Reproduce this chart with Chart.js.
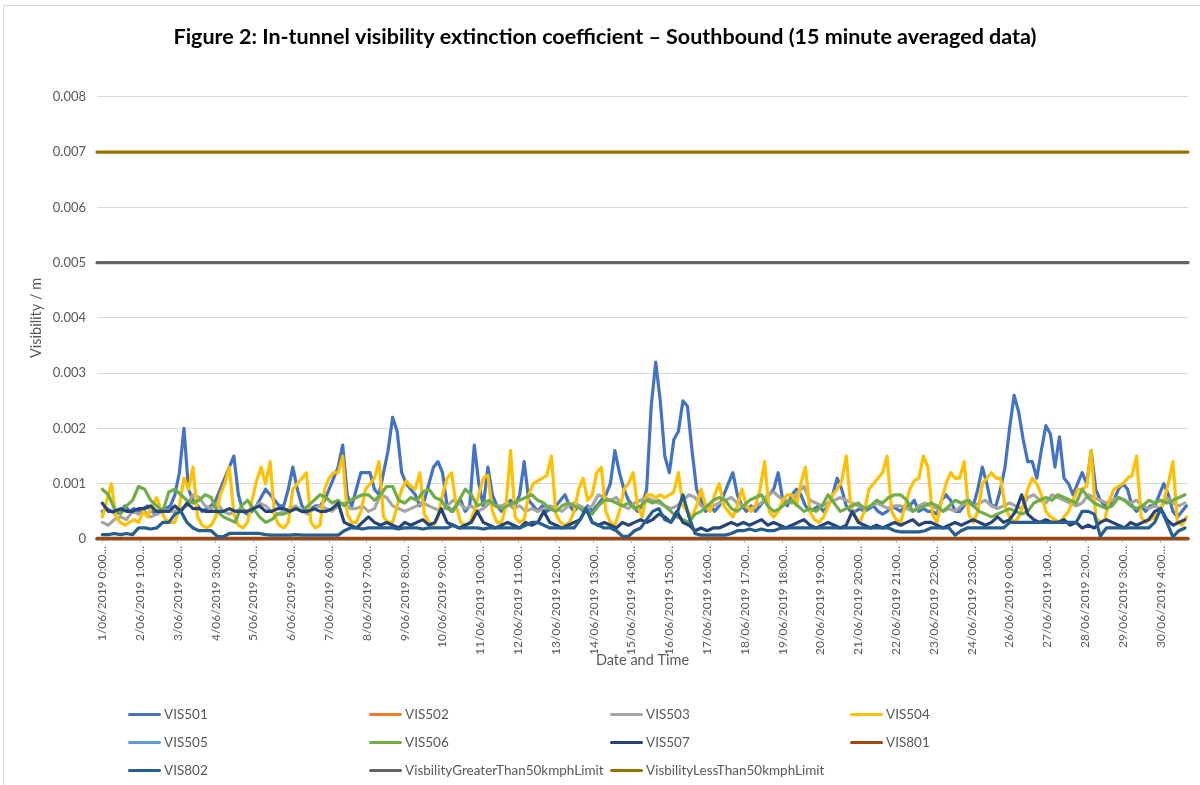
<!DOCTYPE html>
<html>
<head>
<meta charset="utf-8">
<title>In-tunnel visibility extinction coefficient - Southbound</title>
<script src="https://cdn.jsdelivr.net/npm/chart.js@4.4.0/dist/chart.umd.min.js"></script>
<style>
    html, body { margin: 0; padding: 0; background: #fff; }
    #wrap { position: relative; width: 1200px; height: 785px; overflow: hidden; font-family: Lato, sans-serif; }
    #frame { position: absolute; left: 3px; top: 5px; width: 1220px; height: 800px; border: 1px solid #d9d9d9; box-sizing: border-box; }
    #myChart { position: absolute; left: 0; top: 0; }
    .legend-item { position: absolute; height: 18px; display: flex; align-items: center; font-size: 13.5px; color: #595959; white-space: nowrap; }
    .legend-line { width: 33px; height: 3px; border-radius: 2px; margin-right: 3px; }
</style>
</head>
<body>
<div id="wrap">
    <div id="frame"></div>
    <canvas id="myChart" width="1200" height="785"></canvas>
    <div id="legend"></div>
</div>
<script>
// x tick labels, one every 25 hours (100 samples of 15 minutes)
const tickLabels = [
    '1/06/2019 0:00...', '2/06/2019 1:00...', '3/06/2019 2:00...', '4/06/2019 3:00...',
    '5/06/2019 4:00...', '6/06/2019 5:00...', '7/06/2019 6:00...', '8/06/2019 7:00...',
    '9/06/2019 8:00...', '10/06/2019 9:00...', '11/06/2019 10:00...', '12/06/2019 11:00...',
    '13/06/2019 12:00...', '14/06/2019 13:00...', '15/06/2019 14:00...', '16/06/2019 15:00...',
    '17/06/2019 16:00...', '18/06/2019 17:00...', '19/06/2019 18:00...', '20/06/2019 19:00...',
    '21/06/2019 20:00...', '22/06/2019 21:00...', '23/06/2019 22:00...', '24/06/2019 23:00...',
    '26/06/2019 0:00...', '27/06/2019 1:00...', '28/06/2019 2:00...', '29/06/2019 3:00...',
    '30/06/2019 4:00...'
];
const tickStepHours = 25;

const seriesNames = [
    'VIS501', 'VIS502', 'VIS503', 'VIS504', 'VIS505', 'VIS506', 'VIS507', 'VIS801', 'VIS802',
    'VisbilityGreaterThan50kmphLimit', 'VisbilityLessThan50kmphLimit'
];

// sample spacing (hours) of the value lists below
const fineStep = 3;
const coarseStep = 4;
// first and last hour of the flat series
const flatHours = [-3.5, 718];

// VIS501, every 3 hours, one row per day
const vis501 = [
    0.0005, 0.00055, 0.0005, 0.00045, 0.0005, 0.0006, 0.0005, 0.00055,
    0.0005, 0.00055, 0.0006, 0.0005, 0.00045, 0.0005, 0.00055, 0.0006,
    0.0008, 0.0012, 0.002, 0.0009, 0.0007, 0.0006, 0.0005, 0.00055,
    0.0006, 0.0007, 0.0009, 0.0011, 0.0013, 0.0015, 0.0008, 0.0005,
    0.00045, 0.0005, 0.0006, 0.00075, 0.0009, 0.0008, 0.0007, 0.0006,
    0.0006, 0.0009, 0.0013, 0.0009, 0.0006, 0.0005, 0.00055, 0.0006,
    0.0006, 0.0007, 0.0009, 0.0011, 0.0013, 0.0017, 0.0008, 0.0006,
    0.0009, 0.0012, 0.0012, 0.0012, 0.0009, 0.0008, 0.0012, 0.0016,
    0.0022, 0.00195, 0.0012, 0.001, 0.0009, 0.0008, 0.0006, 0.0007,
    0.001, 0.0013, 0.0014, 0.0012, 0.0006, 0.0005, 0.0006, 0.0007,
    0.0005, 0.0006, 0.0017, 0.001, 0.0006, 0.0013, 0.0008, 0.0006,
    0.0005, 0.0006, 0.0007, 0.0006, 0.0008, 0.0014, 0.0007, 0.0006,
    0.0005, 0.0006, 0.0005, 0.00055, 0.0006, 0.0007, 0.0008, 0.0006,
    0.0005, 0.0006, 0.0005, 0.0006, 0.0005, 0.0006, 0.0007, 0.0008,
    0.001, 0.0016, 0.0012, 0.0009, 0.0007, 0.0006, 0.0005, 0.0006,
    0.0009, 0.0024, 0.0032, 0.0025, 0.0015, 0.0012, 0.0018, 0.00195,
    0.0025, 0.0024, 0.0016, 0.0009, 0.0007, 0.0005, 0.0006, 0.0005,
    0.0006, 0.0008, 0.001, 0.0012, 0.0008, 0.0006, 0.0005, 0.0006,
    0.0005, 0.0006, 0.0007, 0.0008, 0.0009, 0.0012, 0.0007, 0.0006,
    0.0008, 0.0009, 0.0008, 0.0006, 0.0005, 0.00055, 0.0006, 0.0005,
    0.0006, 0.0008, 0.0011, 0.0009, 0.0006, 0.0005, 0.0005, 0.00055,
    0.0005, 0.00055, 0.0006, 0.0005, 0.00045, 0.0005, 0.0006, 0.00055,
    0.0005, 0.0006, 0.0006, 0.0007, 0.0005, 0.00055, 0.0005, 0.0005,
    0.00045, 0.0007, 0.0008, 0.0007, 0.0005, 0.0005, 0.0006, 0.0007,
    0.0006, 0.0009, 0.0013, 0.001, 0.0006, 0.0006, 0.0009, 0.0013,
    0.002, 0.0026, 0.0023, 0.0018, 0.0014, 0.0014, 0.0011, 0.0016,
    0.00205, 0.0019, 0.0013, 0.00185, 0.0011, 0.001, 0.0008, 0.001,
    0.0012, 0.001, 0.0016, 0.0009, 0.0007, 0.0006, 0.0006, 0.0007,
    0.0009, 0.001, 0.0009, 0.0006, 0.0005, 0.0006, 0.0005, 0.0006,
    0.0006, 0.0008, 0.001, 0.0008, 0.0005, 0.0004, 0.0005, 0.0006
];

// VIS504, every 3 hours
const vis504 = [
    0.0004, 0.0007, 0.001, 0.0004, 0.0003, 0.00025, 0.0003, 0.00035,
    0.0003, 0.0005, 0.0004, 0.0006, 0.00075, 0.0005, 0.00035, 0.0003,
    0.0003, 0.0006, 0.0011, 0.0009, 0.0013, 0.0004, 0.00025, 0.0002,
    0.00025, 0.0004, 0.0008, 0.001, 0.0013, 0.00045, 0.00025, 0.0002,
    0.0003, 0.0007, 0.00105, 0.0013, 0.001, 0.0014, 0.0004, 0.00025,
    0.0002, 0.0003, 0.0009, 0.001, 0.0011, 0.0012, 0.0003, 0.0002,
    0.00025, 0.0009, 0.0011, 0.0012, 0.0012, 0.0015, 0.00045, 0.0003,
    0.0003, 0.0005, 0.0009, 0.001, 0.0011, 0.0014, 0.0004, 0.0003,
    0.0003, 0.0006, 0.0009, 0.00105, 0.00095, 0.0009, 0.0012, 0.00045,
    0.0003, 0.00025, 0.0004, 0.0008, 0.0011, 0.0012, 0.0006, 0.0003,
    0.00025, 0.0003, 0.0005, 0.0008, 0.0011, 0.00115, 0.0005, 0.0003,
    0.0003, 0.0006, 0.0016, 0.0004, 0.0003, 0.00035, 0.0008, 0.001,
    0.00105, 0.0011, 0.00115, 0.0015, 0.00045, 0.0003, 0.00025, 0.0003,
    0.0005, 0.0009, 0.0011, 0.0007, 0.0008, 0.0012, 0.0013, 0.0005,
    0.0003, 0.00025, 0.0005, 0.0009, 0.001, 0.0012, 0.0006, 0.0004,
    0.0008, 0.0008, 0.00075, 0.0008, 0.00075, 0.0008, 0.00085, 0.0012,
    0.0006, 0.0005, 0.0004, 0.0006, 0.0009, 0.0006, 0.0005, 0.0008,
    0.001, 0.0006, 0.0005, 0.0004, 0.0006, 0.0009, 0.0006, 0.0005,
    0.0006, 0.0009, 0.0014, 0.0005, 0.0004, 0.0005, 0.0007, 0.0008,
    0.0008, 0.0006, 0.001, 0.0013, 0.0005, 0.00035, 0.0003, 0.0004,
    0.0006, 0.0008, 0.0009, 0.00105, 0.0015, 0.0006, 0.0004, 0.0003,
    0.0005, 0.0009, 0.001, 0.0011, 0.0012, 0.0015, 0.0005, 0.00035,
    0.0003, 0.0006, 0.0009, 0.00105, 0.0011, 0.0015, 0.0013, 0.00045,
    0.0003, 0.0007, 0.001, 0.0012, 0.0011, 0.0011, 0.0014, 0.00045,
    0.0003, 0.0005, 0.001, 0.0011, 0.0012, 0.0011, 0.0011, 0.0006,
    0.0004, 0.0003, 0.0004, 0.0006, 0.0009, 0.0011, 0.001, 0.0008,
    0.0005, 0.0004, 0.00035, 0.0003, 0.0004, 0.0005, 0.0007, 0.0009,
    0.0009, 0.00095, 0.0016, 0.0004, 0.0003, 0.00035, 0.0007, 0.0009,
    0.00095, 0.001, 0.0011, 0.00115, 0.0015, 0.0004, 0.0003, 0.00035,
    0.0004, 0.0005, 0.0007, 0.001, 0.0014, 0.0003, 0.00025, 0.0004
];

// VIS503, every 4 hours
const vis503 = [
    0.0003, 0.00025, 0.00035, 0.0004, 0.00035, 0.0005,
    0.00045, 0.0005, 0.0004, 0.00045, 0.00055, 0.0005,
    0.0005, 0.00055, 0.0006, 0.0008, 0.00075, 0.0006,
    0.00055, 0.00065, 0.0005, 0.00045, 0.0005, 0.00055,
    0.0005, 0.00055, 0.00065, 0.0006, 0.0005, 0.00045,
    0.0005, 0.00055, 0.0006, 0.0005, 0.00045, 0.00055,
    0.0006, 0.00055, 0.0005, 0.0006, 0.00065, 0.00055,
    0.00055, 0.0006, 0.0005, 0.00055, 0.0008, 0.00075,
    0.0006, 0.00055, 0.0005, 0.00055, 0.0006, 0.00065,
    0.0006, 0.00055, 0.0005, 0.0006, 0.0007, 0.00065,
    0.00055, 0.0006, 0.0005, 0.00055, 0.00065, 0.0006,
    0.0006, 0.00065, 0.00055, 0.0006, 0.0005, 0.00055,
    0.0005, 0.00055, 0.0006, 0.00055, 0.0005, 0.0006,
    0.00065, 0.0006, 0.00055, 0.0006, 0.0008, 0.00075,
    0.0007, 0.00075, 0.0006, 0.00055, 0.00065, 0.0007,
    0.00075, 0.0007, 0.00065, 0.0006, 0.00055, 0.0006,
    0.0007, 0.0008, 0.00075, 0.0006, 0.00055, 0.0006,
    0.00065, 0.0007, 0.00075, 0.00065, 0.0006, 0.00055,
    0.0006, 0.00065, 0.0008, 0.00085, 0.00075, 0.0007,
    0.00065, 0.00085, 0.00095, 0.0007, 0.00065, 0.0006,
    0.00065, 0.0007, 0.00075, 0.0007, 0.00065, 0.0006,
    0.00055, 0.0006, 0.00065, 0.0006, 0.00055, 0.0006,
    0.0006, 0.00055, 0.0005, 0.0006, 0.00065, 0.0006,
    0.00055, 0.0005, 0.00055, 0.0005, 0.0006, 0.00065,
    0.0006, 0.00065, 0.0007, 0.0006, 0.00055, 0.0006,
    0.00065, 0.0006, 0.00055, 0.00075, 0.0008, 0.0007,
    0.00065, 0.0008, 0.00075, 0.0007, 0.00065, 0.0006,
    0.00065, 0.0008, 0.00075, 0.0007, 0.00065, 0.0007,
    0.00075, 0.0007, 0.00065, 0.0007, 0.0006, 0.00055,
    0.0006, 0.00055, 0.00075, 0.00065, 0.0006, 0.00065
];

// VIS506, every 4 hours
const vis506 = [
    0.0009, 0.0008, 0.00055, 0.00045, 0.0006, 0.0007,
    0.00095, 0.0009, 0.0007, 0.0006, 0.0005, 0.00085,
    0.0009, 0.0008, 0.0007, 0.00065, 0.0007, 0.0008,
    0.00075, 0.0005, 0.0004, 0.00035, 0.0003, 0.0006,
    0.0007, 0.00055, 0.0004, 0.0003, 0.00035, 0.00045,
    0.00045, 0.0005, 0.00055, 0.0005, 0.0006, 0.0007,
    0.0008, 0.00075, 0.00065, 0.0007, 0.0006, 0.0007,
    0.00075, 0.0008, 0.0008, 0.0007, 0.0008, 0.00095,
    0.00095, 0.0007, 0.00065, 0.00075, 0.0007, 0.00085,
    0.0009, 0.00075, 0.0007, 0.00055, 0.0005, 0.0007,
    0.0009, 0.0008, 0.0006, 0.00065, 0.0007, 0.0006,
    0.00055, 0.0006, 0.00065, 0.0007, 0.00075, 0.0008,
    0.0007, 0.00065, 0.00055, 0.0005, 0.0006, 0.00065,
    0.0006, 0.00055, 0.0005, 0.00045, 0.0006, 0.0007,
    0.0007, 0.00065, 0.0006, 0.00065, 0.00055, 0.0006,
    0.0007, 0.00065, 0.0007, 0.0006, 0.0005, 0.0004,
    0.00035, 0.0003, 0.00045, 0.0005, 0.0006, 0.0007,
    0.00075, 0.0007, 0.00055, 0.0005, 0.0006, 0.0007,
    0.00075, 0.0008, 0.0006, 0.0005, 0.00055, 0.00065,
    0.0007, 0.0006, 0.0005, 0.00055, 0.0005, 0.0006,
    0.0008, 0.00065, 0.0005, 0.00055, 0.0006, 0.00065,
    0.00055, 0.0006, 0.0007, 0.00065, 0.00075, 0.0008,
    0.0008, 0.0007, 0.0005, 0.00055, 0.0006, 0.00065,
    0.0006, 0.0005, 0.0006, 0.0007, 0.00065, 0.0007,
    0.0006, 0.0005, 0.00045, 0.0004, 0.00045, 0.0005,
    0.00055, 0.0005, 0.00045, 0.0005, 0.00065, 0.0007,
    0.00075, 0.0007, 0.0008, 0.00075, 0.0007, 0.00065,
    0.0009, 0.00075, 0.00065, 0.0006, 0.00055, 0.0006,
    0.00075, 0.0007, 0.0006, 0.00055, 0.0006, 0.0007,
    0.00065, 0.0007, 0.00065, 0.0007, 0.00075, 0.0008
];

// VIS507, every 4 hours
const vis507 = [
    0.00065, 0.0005, 0.0005, 0.00055, 0.0005, 0.0005,
    0.00055, 0.00055, 0.0006, 0.0005, 0.0005, 0.0005,
    0.0006, 0.0005, 0.00065, 0.00055, 0.00055, 0.0005,
    0.0005, 0.0005, 0.0005, 0.00055, 0.0005, 0.0005,
    0.0005, 0.00055, 0.0006, 0.0005, 0.0005, 0.00055,
    0.00055, 0.0005, 0.00055, 0.0005, 0.0005, 0.00055,
    0.0005, 0.0005, 0.00055, 0.00065, 0.0003, 0.00025,
    0.0002, 0.0003, 0.0004, 0.0003, 0.00025, 0.0003,
    0.00025, 0.0002, 0.0003, 0.00025, 0.0003, 0.00035,
    0.00025, 0.0003, 0.00055, 0.0003, 0.00025, 0.0002,
    0.00025, 0.0003, 0.0005, 0.0003, 0.00025, 0.0002,
    0.00025, 0.0003, 0.00025, 0.0002, 0.0003, 0.00025,
    0.0003, 0.0005, 0.0003, 0.00025, 0.0002, 0.00025,
    0.0003, 0.00035, 0.00055, 0.0003, 0.00025, 0.0003,
    0.00025, 0.0002, 0.0003, 0.00025, 0.0003, 0.00035,
    0.0003, 0.00035, 0.00045, 0.0004, 0.0003, 0.0005,
    0.0003, 0.00025, 0.00015, 0.0002, 0.00015, 0.0002,
    0.0002, 0.00025, 0.0003, 0.00025, 0.0003, 0.00025,
    0.0003, 0.00035, 0.00025, 0.0003, 0.00025, 0.0002,
    0.00025, 0.0003, 0.00035, 0.00025, 0.0002, 0.00025,
    0.0003, 0.00025, 0.0002, 0.00025, 0.0005, 0.0003,
    0.00025, 0.0002, 0.00025, 0.0002, 0.00025, 0.0003,
    0.00025, 0.0003, 0.00035, 0.00025, 0.0003, 0.0003,
    0.00025, 0.0002, 0.00025, 0.0003, 0.00025, 0.0003,
    0.00035, 0.0003, 0.00025, 0.0003, 0.0004, 0.0003,
    0.00035, 0.0005, 0.0008, 0.00045, 0.00035, 0.0003,
    0.00035, 0.0003, 0.0003, 0.00035, 0.00025, 0.0003,
    0.0002, 0.00025, 0.0002, 0.0003, 0.00035, 0.0003,
    0.00025, 0.0002, 0.0003, 0.00025, 0.0003, 0.00035,
    0.0005, 0.00055, 0.00035, 0.00025, 0.0003, 0.00035
];

// VIS802, every 4 hours
const vis802 = [
    0.00008, 0.00008, 0.0001, 0.00008, 0.0001, 0.00008,
    0.0002, 0.0002, 0.00018, 0.0002, 0.0003, 0.0003,
    0.00045, 0.0005, 0.0003, 0.0002, 0.00015, 0.00015,
    0.00015, 0.00005, 0.00004, 0.0001, 0.0001, 0.0001,
    0.0001, 0.0001, 0.0001, 0.00008, 0.00007, 0.00007,
    0.00007, 0.00007, 0.00008, 0.00007, 0.00007, 0.00007,
    0.00007, 0.00007, 0.00007, 0.00007, 0.00015, 0.0002,
    0.0002, 0.00018, 0.0002, 0.0002, 0.0002, 0.0002,
    0.0002, 0.00018, 0.0002, 0.0002, 0.0002, 0.00018,
    0.0002, 0.0002, 0.0002, 0.0002, 0.00025, 0.0002,
    0.0002, 0.0002, 0.0002, 0.00018, 0.0002, 0.0002,
    0.0002, 0.0002, 0.0002, 0.0002, 0.00025, 0.0003,
    0.0003, 0.00025, 0.0002, 0.0002, 0.0002, 0.0002,
    0.0002, 0.00035, 0.00055, 0.0003, 0.00025, 0.0002,
    0.0002, 0.00015, 0.00005, 0.00005, 0.00015, 0.0002,
    0.00035, 0.0005, 0.00055, 0.00035, 0.0003, 0.00045,
    0.0008, 0.0004, 0.0001, 0.00007, 0.00007, 0.00007,
    0.00007, 0.00007, 0.0001, 0.00015, 0.00015, 0.00018,
    0.00015, 0.00018, 0.00015, 0.00015, 0.00019, 0.0002,
    0.0002, 0.0002, 0.0002, 0.0002, 0.0002, 0.0002,
    0.0002, 0.0002, 0.0002, 0.0002, 0.0002, 0.0002,
    0.0002, 0.0002, 0.0002, 0.0002, 0.0002, 0.00015,
    0.00013, 0.00013, 0.00013, 0.00013, 0.00015, 0.0002,
    0.0002, 0.0002, 0.0002, 0.00007, 0.00015, 0.0002,
    0.0002, 0.0002, 0.0002, 0.0002, 0.0002, 0.0002,
    0.0003, 0.0003, 0.0003, 0.0003, 0.0003, 0.0003,
    0.0003, 0.0003, 0.0003, 0.0003, 0.0003, 0.0003,
    0.0005, 0.0005, 0.00045, 0.00005, 0.0002, 0.0002,
    0.0002, 0.0002, 0.0002, 0.0002, 0.0002, 0.0002,
    0.0003, 0.00055, 0.0003, 0.00004, 0.00015, 0.0002
];

// near-zero sensors and the two limit lines (start and end value)
const vis502 = [0, 0];
const vis505 = [0, 0];
const vis801 = [0.00001, 0.00001];
const limitGreater50 = [0.005, 0.005];
const limitLess50 = [0.007, 0.007];

const seriesColors = [
    '#4472c4', '#ed7d31', '#a5a5a5', '#ffc000', '#5b9bd5', '#70ad47',
    '#264478', '#9e480e', '#255e91', '#636363', '#997300'
];

function toPoints(values, step) {
    return values.map((v, i) => ({ x: i * step, y: v }));
}
function flatPoints(values) {
    return values.map((v, i) => ({ x: flatHours[i], y: v }));
}

const seriesData = [
    toPoints(vis501, fineStep),
    flatPoints(vis502),
    toPoints(vis503, coarseStep),
    toPoints(vis504, fineStep),
    flatPoints(vis505),
    toPoints(vis506, coarseStep),
    toPoints(vis507, coarseStep),
    flatPoints(vis801),
    toPoints(vis802, coarseStep),
    flatPoints(limitGreater50),
    flatPoints(limitLess50)
];

const datasets = seriesNames.map((name, i) => {
    return {
        label: name,
        data: seriesData[i],
        borderColor: seriesColors[i],
        backgroundColor: seriesColors[i],
        borderWidth: 3.2,
        pointRadius: 0,
        tension: 0,
        borderCapStyle: 'round',
        borderJoinStyle: 'round',
        clip: false,
        // later series are drawn over earlier ones, as in the original
        order: seriesNames.length - i
    };
});

const ctx = document.getElementById('myChart');
const myChart = new Chart(ctx, { // eslint-disable-line
    type: 'line',
    data: { datasets: datasets },
    options: {
        responsive: false,
        animation: false,
        devicePixelRatio: 1,
        layout: { padding: { left: 22, right: 12, top: 0, bottom: 100 } },
        plugins: {
            legend: { display: false },
            tooltip: { enabled: false },
            title: {
                display: true,
                text: 'Figure 2: In-tunnel visibility extinction coefficient \u2013 Southbound (15 minute averaged data)',
                color: '#000000',
                font: { family: 'Lato', size: 21.5, weight: 'bold' },
                padding: { top: 24, bottom: 47 }
            }
        },
        scales: {
            x: {
                type: 'linear',
                min: flatHours[0],
                max: flatHours[1],
                afterBuildTicks: (scale) => {
                    scale.ticks = tickLabels.map((t, i) => ({ value: i * tickStepHours }));
                },
                afterFit: (scale) => { scale.height = 146; },
                ticks: {
                    autoSkip: false,
                    minRotation: 90,
                    maxRotation: 90,
                    padding: 3,
                    color: '#595959',
                    font: { family: 'Lato', size: 12 },
                    callback: (value, index) => tickLabels[index]
                },
                grid: { drawOnChartArea: false, drawTicks: true, tickLength: 4, color: '#bfbfbf' },
                border: { color: '#d9d9d9' },
                title: {
                    display: true,
                    text: 'Date and Time',
                    color: '#595959',
                    font: { family: 'Lato', size: 14.5 },
                    padding: { top: 0, bottom: 16 }
                }
            },
            y: {
                min: 0,
                max: 0.008,
                afterFit: (scale) => { scale.width = 75; },
                ticks: {
                    stepSize: 0.001,
                    padding: 11,
                    color: '#595959',
                    font: { family: 'Lato', size: 13 },
                    callback: (value) => value === 0 ? '0' : value.toFixed(3)
                },
                grid: { color: '#d9d9d9', drawTicks: false },
                border: { display: false },
                title: {
                    display: true,
                    text: 'Visibility / m',
                    color: '#595959',
                    font: { family: 'Lato', size: 14.5 },
                    padding: { top: 6, bottom: 0 }
                }
            }
        }
    }
});

// legend laid out in four columns, like the original
const legendCols = [128, 369, 610, 850];
const legendRows = [714, 742, 770];
const legendEl = document.getElementById('legend');
seriesNames.forEach((name, i) => {
    const item = document.createElement('div');
    item.className = 'legend-item';
    item.style.left = legendCols[i % 4] + 'px';
    item.style.top = (legendRows[Math.floor(i / 4)] - 9) + 'px';
    const line = document.createElement('span');
    line.className = 'legend-line';
    line.style.background = seriesColors[i];
    const label = document.createElement('span');
    label.textContent = name;
    item.appendChild(line);
    item.appendChild(label);
    legendEl.appendChild(item);
});
</script>
</body>
</html>
